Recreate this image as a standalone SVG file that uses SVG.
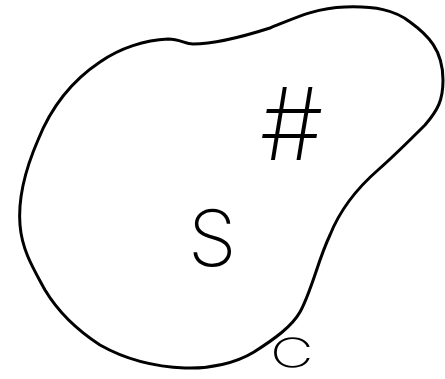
<svg xmlns="http://www.w3.org/2000/svg" width="445" height="379" viewBox="0 0 445 379">
<style>
.outline{fill:none;stroke:#000;stroke-width:3;stroke-linecap:round;stroke-linejoin:round}
.lbl{font-family:Inter,"Open Sans","Liberation Sans",sans-serif;font-weight:200;fill:#000}
</style>
<rect width="445" height="379" fill="#fff"/>
<g id="region-S">
<path class="outline" d="M168,39 C180,39 185,44 193,44 C215,44 245,36 270,28 C295,18 315,8 345,7 C375,6 395,10 410,22 C428,35 443,50 443,80 C443,100 438,110 425,125 C410,140 395,155 378,170 C355,190 340,210 330,235 C318,260 312,290 300,312 C292,326 276,338 254,352 C236,363 210,369 185,368 C160,367 130,362 100,345 C80,332 60,315 45,290 C33,268 22,250 20,225 C18,200 25,170 38,140 C50,110 70,82 100,62 C120,48 145,40 168,39 Z"/>
</g>
<g id="labels">
<text class="lbl" x="260" y="160" font-size="100">#</text>
<text class="lbl" x="188" y="266" font-size="78">S</text>
<text class="lbl" transform="translate(270,367) scale(1.5,1)" font-size="40">C</text>
</g>
</svg>
